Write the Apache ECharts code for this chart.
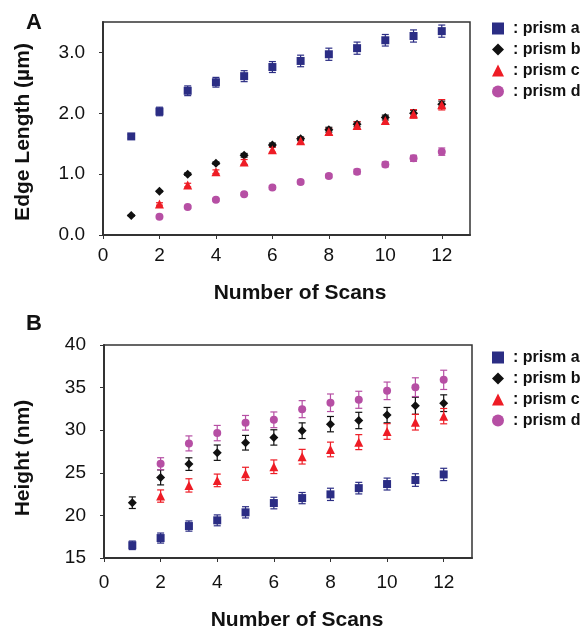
<!DOCTYPE html>
<html>
<head>
<meta charset="utf-8">
<script src="https://cdn.jsdelivr.net/npm/echarts@6/dist/echarts.min.js"></script>
<style>
html,body{margin:0;padding:0;background:#fff;}
#chart{width:583px;height:629px;}
</style>
</head>
<body>
<div id="chart"></div>
<script>
// ---- Data ----
const scans = [1, 2, 3, 4, 5, 6, 7, 8, 9, 10, 11, 12];
const xTicks = [0, 2, 4, 6, 8, 10, 12];
const edgeTicks = [0, 1, 2, 3];
const seriesNames = ['prism a', 'prism b', 'prism c', 'prism d'];

// Panel A: Edge Length (µm)
const edgeA = [1.62, 2.03, 2.37, 2.51, 2.61, 2.76, 2.86, 2.97, 3.07, 3.20, 3.27, 3.35];
const edgeAErr = [0.03, 0.07, 0.08, 0.08, 0.09, 0.09, 0.095, 0.1, 0.1, 0.095, 0.1, 0.1];
const edgeB = [0.32, 0.72, 1.00, 1.18, 1.31, 1.48, 1.58, 1.73, 1.82, 1.93, 2.00, 2.15];
const edgeBErr = [0.01, 0.01, 0.02, 0.02, 0.03, 0.03, 0.03, 0.04, 0.04, 0.04, 0.05, 0.05];
const edgeC = [null, 0.51, 0.82, 1.04, 1.20, 1.40, 1.55, 1.70, 1.80, 1.88, 1.99, 2.14];
const edgeCErr = [null, 0.02, 0.03, 0.03, 0.04, 0.04, 0.05, 0.05, 0.06, 0.06, 0.07, 0.085];
const edgeD = [null, 0.30, 0.46, 0.58, 0.67, 0.78, 0.87, 0.97, 1.04, 1.16, 1.26, 1.37];
const edgeDErr = [null, 0.01, 0.02, 0.02, 0.02, 0.03, 0.03, 0.03, 0.04, 0.04, 0.05, 0.06];

// Panel B: Height (nm)
const heightA = [16.49, 17.34, 18.75, 19.42, 20.36, 21.45, 22.03, 22.47, 23.20, 23.68, 24.15, 24.81];
const heightAErr = [0.5, 0.59, 0.6, 0.64, 0.66, 0.68, 0.66, 0.72, 0.68, 0.7, 0.74, 0.72];
const heightB = [21.49, 24.46, 26.02, 27.36, 28.53, 29.15, 29.94, 30.71, 31.14, 31.77, 32.87, 33.17];
const heightBErr = [0.68, 0.88, 0.74, 0.9, 0.86, 0.9, 0.92, 0.9, 0.96, 0.9, 1.0, 0.98];
const heightC = [null, 22.27, 23.52, 24.11, 24.89, 25.71, 26.89, 27.74, 28.60, 29.85, 30.94, 31.65];
const heightCErr = [null, 0.72, 0.78, 0.74, 0.76, 0.8, 0.86, 0.86, 0.88, 0.92, 0.92, 0.9];
const heightD = [null, 26.07, 28.45, 29.66, 30.87, 31.22, 32.47, 33.22, 33.57, 34.62, 35.05, 35.91];
const heightDErr = [null, 0.7, 0.88, 0.9, 0.86, 0.92, 1.0, 1.03, 1.0, 1.03, 1.1, 1.13];

// ---- Styles ----
const colors = ['#2b2d84', '#111111', '#ee1c25', '#b64fa4'];
const symbols = ['rect', 'diamond', 'triangle', 'circle'];
const symSizes = [8, 9, 9, 8];
const FONT = 'Liberation Sans, Arial, Helvetica, sans-serif';

function pts(vals, errs) {
  const out = [];
  scans.forEach((s, i) => { if (vals[i] != null) out.push([s, vals[i], errs[i]]); });
  return out;
}

function errRender(params, api) {
  const x = api.value(0), y = api.value(1), e = api.value(2);
  const t = api.coord([x, y + e]);
  const b = api.coord([x, y - e]);
  const w = 3.5;
  const st = { stroke: api.visual('color'), lineWidth: 1.2 };
  return {
    type: 'group',
    children: [
      { type: 'line', shape: { x1: t[0], y1: t[1], x2: b[0], y2: b[1] }, style: st },
      { type: 'line', shape: { x1: t[0] - w, y1: t[1], x2: t[0] + w, y2: t[1] }, style: st },
      { type: 'line', shape: { x1: b[0] - w, y1: b[1], x2: b[0] + w, y2: b[1] }, style: st }
    ]
  };
}

const panelA = [[edgeA, edgeAErr], [edgeB, edgeBErr], [edgeC, edgeCErr], [edgeD, edgeDErr]];
const panelB = [[heightA, heightAErr], [heightB, heightBErr], [heightC, heightCErr], [heightD, heightDErr]];

const series = [];
[panelA, panelB].forEach((panel, pi) => {
  panel.forEach((pair, k) => {
    series.push({
      type: 'custom', name: 'err' + pi + k, xAxisIndex: pi, yAxisIndex: pi,
      renderItem: errRender, data: pts(pair[0], pair[1]),
      itemStyle: { color: colors[k] }, z: 2, silent: true
    });
  });
  panel.forEach((pair, k) => {
    series.push({
      type: 'scatter', name: seriesNames[k], xAxisIndex: pi, yAxisIndex: pi,
      symbol: symbols[k], symbolSize: symSizes[k],
      data: pts(pair[0], pair[1]).map(p => [p[0], p[1]]),
      itemStyle: { color: colors[k], opacity: 1 }, z: 3
    });
  });
});

function xAxis(gi, margin) {
  return {
    type: 'value', gridIndex: gi, min: 0, max: 13, interval: 1,
    axisLine: { show: true, onZero: false, lineStyle: { color: '#333', width: 2 } },
    axisTick: { show: true, customValues: xTicks, length: 4, inside: false, lineStyle: { color: '#333' } },
    axisLabel: { customValues: xTicks, margin: margin, fontSize: 19, color: '#111', fontFamily: FONT },
    splitLine: { show: false }
  };
}

function legend(top) {
  return {
    orient: 'vertical', left: 487, top: top, itemGap: 4, itemWidth: 12, itemHeight: 12,
    textStyle: { fontSize: 16, fontWeight: 'bold', color: '#111', fontFamily: FONT, lineHeight: 17, padding: [0, 0, 0, 4] },
    formatter: n => ': ' + n,
    data: seriesNames.map((n, k) => ({ name: n, icon: symbols[k] })),
    selectedMode: false
  };
}

const option = {
  animation: false,
  backgroundColor: '#fff',
  grid: [
    { left: 103, top: 22, width: 367, height: 213, show: true, borderColor: '#333', borderWidth: 1.5, backgroundColor: 'transparent' },
    { left: 104, top: 345, width: 368, height: 213, show: true, borderColor: '#333', borderWidth: 1.5, backgroundColor: 'transparent' }
  ],
  xAxis: [xAxis(0, 11), xAxis(1, 15)],
  yAxis: [
    {
      type: 'value', gridIndex: 0, min: 0, max: 3.5, interval: 0.5,
      axisLine: { show: true, lineStyle: { color: '#333', width: 2 } },
      axisTick: { show: true, customValues: edgeTicks, length: 4, lineStyle: { color: '#333' } },
      axisLabel: { customValues: edgeTicks, formatter: v => v.toFixed(1), margin: 18, fontSize: 19, color: '#111', fontFamily: FONT },
      splitLine: { show: false }
    },
    {
      type: 'value', gridIndex: 1, min: 15, max: 40, interval: 5,
      axisLine: { show: true, lineStyle: { color: '#333', width: 2 } },
      axisTick: { show: true, length: 4, lineStyle: { color: '#333' } },
      axisLabel: { margin: 18, fontSize: 19, color: '#111', fontFamily: FONT },
      splitLine: { show: false }
    }
  ],
  legend: [legend(15), legend(344)],
  series: series,
  graphic: [
    { type: 'text', x: 34, y: 23, style: { text: 'A', font: 'bold 22px ' + FONT, fill: '#111', textAlign: 'center', textVerticalAlign: 'middle' } },
    { type: 'text', x: 34, y: 324, style: { text: 'B', font: 'bold 22px ' + FONT, fill: '#111', textAlign: 'center', textVerticalAlign: 'middle' } },
    { type: 'text', x: 23, y: 132, rotation: Math.PI / 2, style: { text: 'Edge Length (µm)', font: 'bold 21px ' + FONT, fill: '#111', textAlign: 'center', textVerticalAlign: 'middle' } },
    { type: 'text', x: 23, y: 458, rotation: Math.PI / 2, style: { text: 'Height (nm)', font: 'bold 21px ' + FONT, fill: '#111', textAlign: 'center', textVerticalAlign: 'middle' } },
    { type: 'text', x: 300, y: 293, style: { text: 'Number of Scans', font: 'bold 21px ' + FONT, fill: '#111', textAlign: 'center', textVerticalAlign: 'middle' } },
    { type: 'text', x: 297, y: 620, style: { text: 'Number of Scans', font: 'bold 21px ' + FONT, fill: '#111', textAlign: 'center', textVerticalAlign: 'middle' } }
  ]
};

const chart = echarts.init(document.getElementById('chart'), null, { renderer: 'canvas' });
chart.setOption(option);
</script>
</body>
</html>
